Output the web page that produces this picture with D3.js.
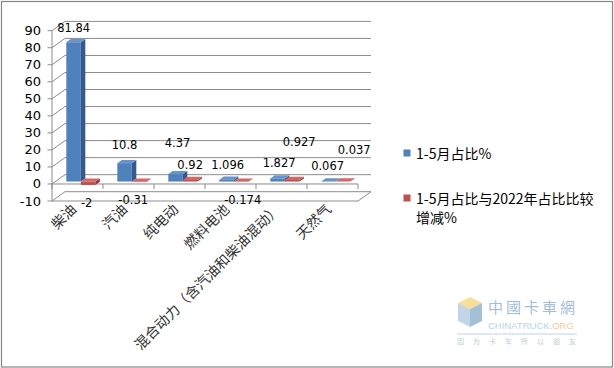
<!DOCTYPE html>
<html>
<head>
<meta charset="utf-8">
<script src="https://cdn.jsdelivr.net/npm/d3@7"></script>
<style>
  html, body { margin: 0; padding: 0; background: #ffffff; }
  svg { display: block; }
</style>
</head>
<body>
<script>
// ---------------- data ----------------
const categories = ["柴油", "汽油", "纯电动", "燃料电池", "混合动力（含汽油和柴油混动）", "天然气"];
const seriesNames = ["1-5月占比%", "1-5月占比与2022年占比比较增减%"];
const share2023 = [81.84, 10.8, 4.37, 1.096, 1.827, 0.067];
const changeVs2022 = [-2, -0.31, 0.92, -0.174, 0.927, 0.037];
const yTickValues = [-10, 0, 10, 20, 30, 40, 50, 60, 70, 80, 90];

// ---------------- layout / style ----------------
const W = 614, H = 368;
const colors = [
  { front: "#4F81BD", side: "#35598A", top: "#6894CB" },
  { front: "#C0504D", side: "#8E3A38", top: "#CF6A67" }
];
const depth = { dx: 13, dy: -9.3 };     // full wall depth in screen px
const barDepth = [0.26, 0.6];            // bar front/back as fraction of depth
// Excel-style label nudges [dx, dy] per series/category (label placement only)
const labelNudge = [
  [[0, 1], [0, -3], [2, -16], [1, 0], [1.5, 0], [-1, 0]],
  [[-1.5, 0], [-6, 0], [0, 0], [1.5, 0], [7, -23], [11, -16.5]]
];

const svg = d3.select("body").append("svg").attr("width", W).attr("height", H);

// outer border
svg.append("rect").attr("x", 1.5).attr("y", 1.5).attr("width", 611).attr("height", 365.5)
  .attr("fill", "#fff").attr("stroke", "#868686").attr("stroke-width", 1.2);

const x = d3.scaleBand().domain(categories).range([52, 358]);
const xs = d3.scaleBand().domain([0, 1]).range([0, x.bandwidth()]).paddingOuter(0.75).paddingInner(0);
const y = d3.scaleLinear().domain([-10, 90]).range([201, 30.7]);
const proj = (px, v, f) => [px + f * depth.dx, y(v) + f * depth.dy];
const xL = x.range()[0], xR = x.range()[1];

const grid = svg.append("g").attr("stroke", "#8c8c8c").attr("stroke-width", 1).attr("fill", "none");
const line = (a, b) => grid.append("line").attr("x1", a[0]).attr("y1", a[1]).attr("x2", b[0]).attr("y2", b[1]);

// back wall gridlines and side wall diagonals
yTickValues.forEach(t => {
  line(proj(xL, t, 1), proj(xR, t, 1));
  line(proj(xL, t, 0), proj(xL, t, 1));
});
// floor front edge and right edge (at axis minimum)
line(proj(xL, -10, 0), proj(xR, -10, 0));
line(proj(xR, -10, 0), proj(xR, -10, 1));

// value axis
const axisG = svg.append("g").attr("stroke", "#8c8c8c").attr("stroke-width", 1);
axisG.append("line").attr("x1", xL).attr("x2", xL).attr("y1", y(-10)).attr("y2", y(90));
yTickValues.forEach(t => {
  axisG.append("line").attr("x1", xL - 4.5).attr("x2", xL).attr("y1", y(t)).attr("y2", y(t));
});
svg.append("g").selectAll("text").data(yTickValues).join("text")
  .attr("x", 41).attr("y", d => y(d))
  .attr("text-anchor", "end").attr("dominant-baseline", "central")
  .attr("font-family", "DejaVu Sans").attr("font-size", 13).attr("fill", "#000")
  .text(d => d);

// category axis at 0 (front)
axisG.append("line").attr("x1", xL).attr("x2", xR).attr("y1", y(0)).attr("y2", y(0));
const bounds = categories.map(c => x(c)).concat([xR]);
bounds.forEach(b => {
  axisG.append("line").attr("x1", b).attr("x2", b).attr("y1", y(0)).attr("y2", y(0) + 5);
});

// bars
const series = [share2023, changeVs2022];
const barsG = svg.append("g");
const poly = pts => pts.map(p => p.join(",")).join(" ");
categories.forEach((c, i) => {
  series.forEach((vals, s) => {
    const v = vals[i];
    const lo = Math.min(0, v), hi = Math.max(0, v);
    const x0 = x(c) + xs(s), x1 = x0 + xs.bandwidth();
    const [f1, f2] = barDepth;
    barsG.append("polygon").attr("fill", colors[s].side)
      .attr("points", poly([proj(x1, hi, f1), proj(x1, hi, f2), proj(x1, lo, f2), proj(x1, lo, f1)]));
    barsG.append("polygon").attr("fill", colors[s].top)
      .attr("points", poly([proj(x0, hi, f1), proj(x1, hi, f1), proj(x1, hi, f2), proj(x0, hi, f2)]));
    barsG.append("polygon").attr("fill", colors[s].front)
      .attr("points", poly([proj(x0, hi, f1), proj(x1, hi, f1), proj(x1, lo, f1), proj(x0, lo, f1)]));
  });
});

// data labels
const labG = svg.append("g").attr("font-family", "DejaVu Sans").attr("font-size", 11.5).attr("fill", "#000")
  .attr("text-anchor", "middle").attr("dominant-baseline", "central");
categories.forEach((c, i) => {
  series.forEach((vals, s) => {
    const v = vals[i];
    const x0 = x(c) + xs(s), x1 = x0 + xs.bandwidth();
    const f1 = barDepth[0];
    const cx = (proj(x0, v, f1)[0] + proj(x1, v, f1)[0]) / 2;
    const ly = v >= 0 ? proj(x0, v, f1)[1] - 15 : proj(x0, v, f1)[1] + 18;
    const [ndx, ndy] = labelNudge[s][i];
    labG.append("text").attr("x", cx + ndx).attr("y", ly + ndy).text(v);
  });
});

// category labels (rotated)
svg.append("g").selectAll("text").data(categories).join("text")
  .attr("transform", d => `translate(${x(d) + x.bandwidth() / 2 - 4.5},${y(0) + 22}) rotate(-45)`)
  .attr("text-anchor", "end").attr("dominant-baseline", "central")
  .attr("font-family", "Noto Sans CJK SC").attr("font-size", 14.2).attr("fill", "#333")
  .text(d => d);

// legend
const legendWrap = 16;
const legG = svg.append("g").attr("font-family", "Noto Sans CJK SC").attr("font-size", 14).attr("fill", "#000");
const legendY = [153, 198];
seriesNames.forEach((name, s) => {
  legG.append("rect").attr("x", 403.5).attr("y", legendY[s] - 3.5).attr("width", 7).attr("height", 7)
    .attr("fill", colors[s].front);
  const lines = name.length > legendWrap ? [name.slice(0, legendWrap), name.slice(legendWrap)] : [name];
  lines.forEach((ln, k) => {
    legG.append("text").attr("x", 416).attr("y", legendY[s] + k * 19)
      .attr("dominant-baseline", "central").text(ln);
  });
});

// watermark (faint logo)
const wm = svg.append("g").attr("opacity", 0.7);
wm.append("polygon").attr("points", "458,303 470,297 482,303 470,309").attr("fill", "#f3d36b");
wm.append("polygon").attr("points", "458,303 470,309 470,327 458,321").attr("fill", "#a9c6dd");
wm.append("polygon").attr("points", "470,309 482,303 482,321 470,327").attr("fill", "#7ea6c6");
wm.append("text").attr("x", 488).attr("y", 313).attr("font-family", "Noto Sans CJK TC")
  .attr("font-size", 15).attr("fill", "#7ba3c6").attr("letter-spacing", 3).text("中國卡車網");
const wmt = wm.append("text").attr("x", 488).attr("y", 329).attr("font-family", "Liberation Sans")
  .attr("font-size", 9.5).attr("fill", "#9cc3e3");
wmt.append("tspan").text("CHINATRUCK.");
wmt.append("tspan").attr("fill", "#f2b765").text("ORG");
wm.append("line").attr("x1", 457).attr("x2", 577).attr("y1", 334).attr("y2", 334).attr("stroke", "#a8c1d3").attr("stroke-width", 1);
wm.append("text").attr("x", 457).attr("y", 344).attr("font-family", "Noto Sans CJK SC")
  .attr("font-size", 7).attr("fill", "#a3b8c8").attr("letter-spacing", 9).text("因为卡车所以朋友");
</script>
</body>
</html>
